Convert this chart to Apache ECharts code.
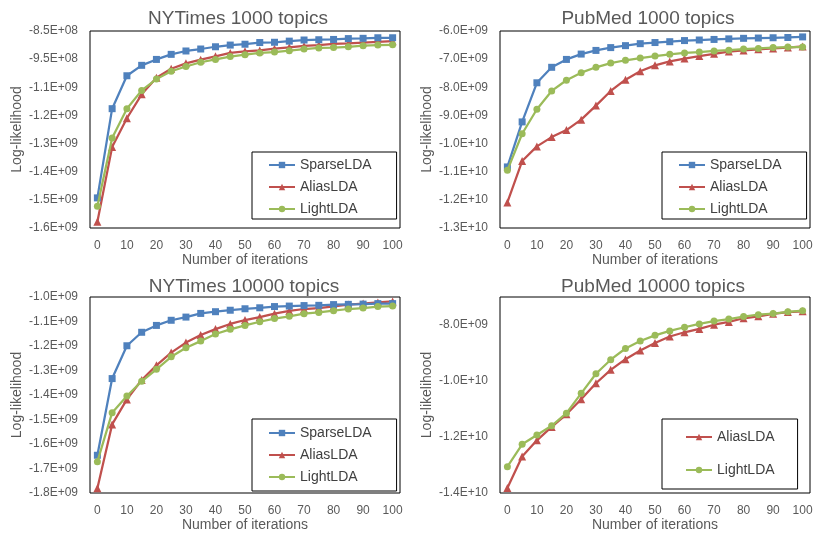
<!DOCTYPE html>
<html>
<head>
<meta charset="utf-8">
<script src="https://cdn.jsdelivr.net/npm/echarts@6/dist/echarts.min.js"></script>
<style>
html,body{margin:0;padding:0;background:#fff;}
#c{width:817px;height:538px;}
</style>
</head>
<body>
<div id="c"></div>
<script>
const iterations = ['0','5','10','15','20','25','30','35','40','45','50','55','60','65','70','75','80','85','90','95','100'];

const nyt1000Sparse = [-1.443e9,-1.126e9,-1.009e9,-9.72e8,-9.51e8,-9.33e8,-9.21e8,-9.14e8,-9.06e8,-9.00e8,-8.97e8,-8.91e8,-8.90e8,-8.86e8,-8.82e8,-8.81e8,-8.80e8,-8.77e8,-8.76e8,-8.74e8,-8.74e8];
const nyt1000Alias  = [-1.528e9,-1.262e9,-1.160e9,-1.075e9,-1.016e9,-9.84e8,-9.65e8,-9.52e8,-9.40e8,-9.28e8,-9.22e8,-9.19e8,-9.13e8,-9.08e8,-9.03e8,-9.00e8,-8.96e8,-8.94e8,-8.91e8,-8.89e8,-8.86e8];
const nyt1000Light  = [-1.473e9,-1.230e9,-1.126e9,-1.061e9,-1.021e9,-9.93e8,-9.76e8,-9.61e8,-9.51e8,-9.41e8,-9.34e8,-9.28e8,-9.25e8,-9.20e8,-9.14e8,-9.10e8,-9.09e8,-9.06e8,-9.02e8,-9.00e8,-8.99e8];

const pub1000Sparse = [-1.083e10,-9.23e9,-7.84e9,-7.29e9,-7.01e9,-6.82e9,-6.69e9,-6.59e9,-6.52e9,-6.45e9,-6.41e9,-6.38e9,-6.34e9,-6.32e9,-6.30e9,-6.28e9,-6.26e9,-6.25e9,-6.24e9,-6.23e9,-6.21e9];
const pub1000Alias  = [-1.209e10,-1.062e10,-1.010e10,-9.77e9,-9.52e9,-9.15e9,-8.65e9,-8.13e9,-7.73e9,-7.43e9,-7.22e9,-7.08e9,-6.98e9,-6.89e9,-6.81e9,-6.73e9,-6.69e9,-6.65e9,-6.62e9,-6.59e9,-6.55e9];
const pub1000Light  = [-1.095e10,-9.65e9,-8.78e9,-8.13e9,-7.75e9,-7.48e9,-7.29e9,-7.14e9,-7.04e9,-6.96e9,-6.89e9,-6.83e9,-6.78e9,-6.75e9,-6.71e9,-6.68e9,-6.64e9,-6.62e9,-6.59e9,-6.57e9,-6.57e9];

const nyt10000Sparse = [-1.646e9,-1.333e9,-1.199e9,-1.144e9,-1.116e9,-1.095e9,-1.082e9,-1.067e9,-1.060e9,-1.054e9,-1.048e9,-1.044e9,-1.039e9,-1.037e9,-1.035e9,-1.034e9,-1.031e9,-1.030e9,-1.029e9,-1.027e9,-1.027e9];
const nyt10000Alias  = [-1.781e9,-1.520e9,-1.418e9,-1.339e9,-1.279e9,-1.227e9,-1.186e9,-1.155e9,-1.131e9,-1.110e9,-1.094e9,-1.082e9,-1.068e9,-1.057e9,-1.049e9,-1.045e9,-1.038e9,-1.031e9,-1.027e9,-1.022e9,-1.018e9];
const nyt10000Light  = [-1.672e9,-1.472e9,-1.404e9,-1.344e9,-1.295e9,-1.244e9,-1.207e9,-1.180e9,-1.151e9,-1.132e9,-1.116e9,-1.101e9,-1.088e9,-1.079e9,-1.068e9,-1.063e9,-1.056e9,-1.049e9,-1.045e9,-1.039e9,-1.037e9];

const pub10000Alias = [-1.382e10,-1.270e10,-1.212e10,-1.164e10,-1.119e10,-1.065e10,-1.008e10,-9.60e9,-9.22e9,-8.91e9,-8.64e9,-8.41e9,-8.26e9,-8.14e9,-7.99e9,-7.89e9,-7.76e9,-7.69e9,-7.60e9,-7.54e9,-7.51e9];
const pub10000Light = [-1.306e10,-1.226e10,-1.193e10,-1.160e10,-1.115e10,-1.044e10,-9.74e9,-9.24e9,-8.84e9,-8.57e9,-8.37e9,-8.21e9,-8.08e9,-7.96e9,-7.86e9,-7.79e9,-7.70e9,-7.63e9,-7.59e9,-7.53e9,-7.49e9];

const nyt1000Ticks  = ['-1.6E+09','-1.5E+09','-1.4E+09','-1.3E+09','-1.2E+09','-1.1E+09','-9.5E+08','-8.5E+08'];
const pub1000Ticks  = ['-1.3E+10','-1.2E+10','-1.1E+10','-1.0E+10','-9.0E+09','-8.0E+09','-7.0E+09','-6.0E+09'];
const nyt10000Ticks = ['-1.8E+09','-1.7E+09','-1.6E+09','-1.5E+09','-1.4E+09','-1.3E+09','-1.2E+09','-1.1E+09','-1.0E+09'];
const pub10000Ticks = ['-1.4E+10','-1.2E+10','-1.0E+10','-8.0E+09'];

// [min, max, interval]
const nyt1000Range  = [-1.55e9, -8.5e8, 1e8];
const pub1000Range  = [-1.3e10, -6e9, 1e9];
const nyt10000Range = [-1.8e9, -1.0e9, 1e8];
const pub10000Range = [-1.4e10, -7e9, 2e9];

const titles = ['NYTimes 1000 topics','PubMed 1000 topics','NYTimes 10000 topics','PubMed 10000 topics'];

const FONT = 'Liberation Sans';
const TXT = '#595959';
const COLORS = {SparseLDA:'#4F81BD', AliasLDA:'#C0504D', LightLDA:'#9BBB59'};
const SYMBOLS = {SparseLDA:'rect', AliasLDA:'triangle', LightLDA:'circle'};

const grids = [
  {left:90, top:31, width:310, height:197},
  {left:500, top:31, width:310, height:197},
  {left:90, top:297, width:310, height:196},
  {left:500, top:297, width:310, height:196}
];
const ranges = [nyt1000Range, pub1000Range, nyt10000Range, pub10000Range];
const tickSets = [nyt1000Ticks, pub1000Ticks, nyt10000Ticks, pub10000Ticks];
const panelSeries = [
  [['SparseLDA', nyt1000Sparse], ['AliasLDA', nyt1000Alias], ['LightLDA', nyt1000Light]],
  [['SparseLDA', pub1000Sparse], ['AliasLDA', pub1000Alias], ['LightLDA', pub1000Light]],
  [['SparseLDA', nyt10000Sparse], ['AliasLDA', nyt10000Alias], ['LightLDA', nyt10000Light]],
  [['AliasLDA', pub10000Alias], ['LightLDA', pub10000Light]]
];
const titlePos = [[238, 9], [648, 9], [244, 277], [653, 277]];
const legendPos = [
  {left:252, top:152, padding:[6,25,3,16], itemGap:8},
  {left:662, top:152, padding:[6,25,3,16], itemGap:8},
  {left:252, top:419, padding:[7,25,7,16], itemGap:8},
  {left:662, top:419, padding:[11,23,12,23], itemGap:19}
];

const option = {
  animation:false,
  backgroundColor:'#fff',
  title: titles.map((t,i)=>({
    text:t, left:titlePos[i][0], top:titlePos[i][1], textAlign:'center', padding:0,
    textStyle:{fontFamily:FONT, fontSize:19, fontWeight:'normal', color:TXT}
  })),
  grid: grids.map(g=>Object.assign({show:true, borderColor:'#000', borderWidth:1, backgroundColor:'transparent'}, g)),
  xAxis: grids.map((g,i)=>({
    type:'category', gridIndex:i, data:iterations, boundaryGap:true,
    axisLine:{show:false}, axisTick:{show:false},
    axisLabel:{interval:1, margin:12, fontFamily:FONT, fontSize:12, color:TXT},
    name:'Number of iterations', nameLocation:'middle', nameGap:24,
    nameTextStyle:{fontFamily:FONT, fontSize:14, color:TXT}
  })),
  yAxis: grids.map((g,i)=>({
    type:'value', gridIndex:i, min:ranges[i][0], max:ranges[i][1], interval:ranges[i][2],
    splitLine:{show:false}, axisLine:{show:false}, axisTick:{show:false},
    axisLabel:{margin:12, fontFamily:FONT, fontSize:12, color:TXT,
      formatter:(v, idx)=> (tickSets[i][idx] !== undefined ? tickSets[i][idx] : '')},
    name:'Log-likelihood', nameLocation:'middle', nameGap:66,
    nameTextStyle:{fontFamily:FONT, fontSize:14, color:TXT}
  })),
  legend: panelSeries.map((ps,i)=>Object.assign({
    orient:'vertical', data:ps.map(s=>s[0]),
    borderColor:'#000', borderWidth:1, borderRadius:0,
    itemWidth:26, itemHeight:8,
    textStyle:{fontFamily:FONT, fontSize:14, color:'#404040'},
    selectedMode:false
  }, legendPos[i])),
  series: []
};

panelSeries.forEach((ps,i)=>{
  ps.forEach(([name, data])=>{
    option.series.push({
      type:'line', name:name, xAxisIndex:i, yAxisIndex:i, data:data,
      symbol:SYMBOLS[name], symbolSize: name==='AliasLDA'?8:7, showAllSymbol:true,
      lineStyle:{width:2.25, color:COLORS[name]},
      itemStyle:{color:COLORS[name]},
      z: name==='SparseLDA'?3:(name==='AliasLDA'?2:4)
    });
  });
});

const chart = echarts.init(document.getElementById('c'), null, {renderer:'canvas'});
chart.setOption(option);
</script>
</body>
</html>
